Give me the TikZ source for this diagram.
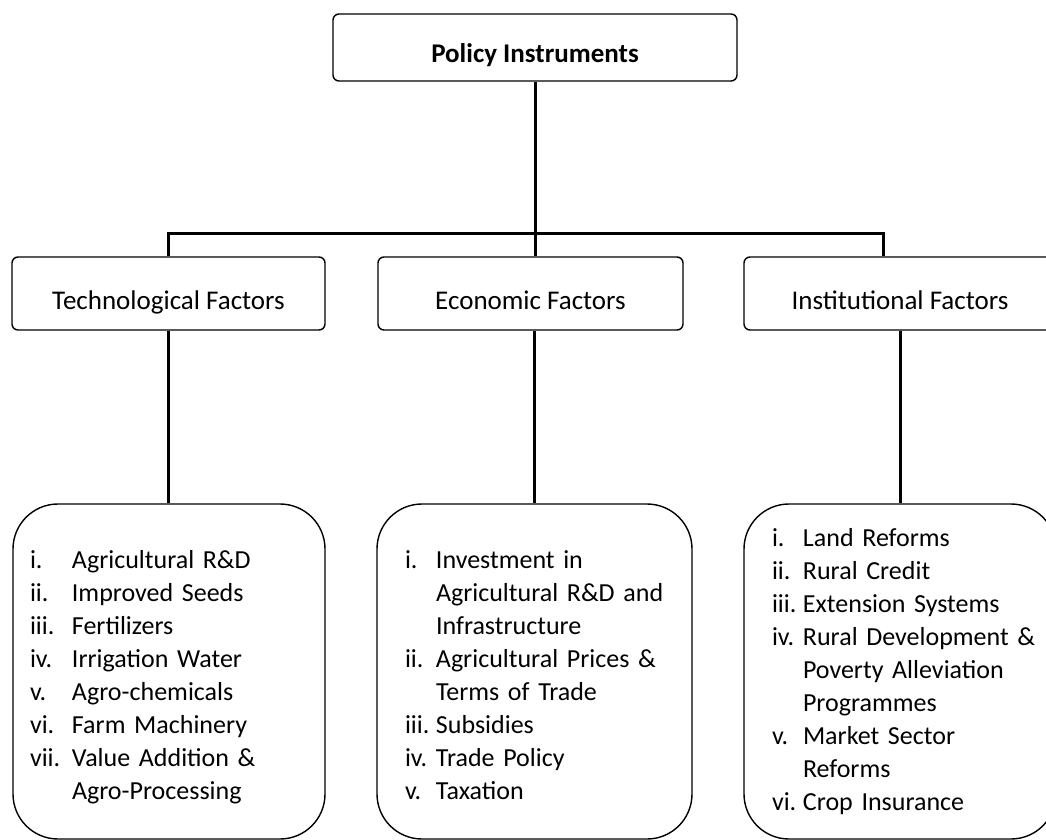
\documentclass[tikz,border=0pt]{standalone}
\usepackage{fontspec}
\setmainfont{Carlito}
\usepackage{array}
\begin{document}
\begin{tikzpicture}[x=1pt, y=-1pt,
  box/.style={draw, line width=1.4pt, rounded corners=6pt, minimum height=73pt, text height=31pt, text depth=0pt, font=\fontsize{27}{33}\selectfont},
  listbox/.style={draw, line width=1.4pt, rounded corners=45pt, minimum height=335pt, align=left, font=\fontsize{26}{33}\selectfont},
  link/.style={line width=3pt}
]
  \clip (0,0) rectangle (1046,840);

  % Top level
  \node[box, minimum width=404pt, minimum height=67pt, font=\fontsize{27}{33}\selectfont\bfseries] (pi) at (535,47.5) {Policy Instruments};

  % Factor groups
  \node[box, minimum width=313pt] (tech) at (168.5,293.5) {Technological Factors};
  \node[box, minimum width=305pt] (econ) at (530.5,293.5) {Economic Factors};
  \node[box, minimum width=312pt] (inst) at (900,293.5) {Institutional Factors};

  % Instrument lists
  \node[listbox, inner xsep=17pt, text width=278pt] (techlist) at (169,671.5) {%
    \begin{tabular}{@{}p{42pt}@{}l@{}}
      \noalign{\vskip 12pt}
      i.   & Agricultural R\&D \\
      ii.  & Improved Seeds \\
      iii. & Fertilizers \\
      iv.  & Irrigation Water \\
      v.   & Agro-chemicals \\
      vi.  & Farm Machinery \\
      vii. & Value Addition \& \\
           & Agro-Processing
    \end{tabular}};
  \node[listbox, inner xsep=28pt, text width=259pt] (econlist) at (534.5,671.5) {%
    \begin{tabular}{@{}p{31pt}@{}l@{}}
      \noalign{\vskip 12pt}
      i.   & Investment in \\
           & Agricultural R\&D and \\
           & Infrastructure \\
      ii.  & Agricultural Prices \& \\
           & Terms of Trade \\
      iii. & Subsidies \\
      iv.  & Trade Policy \\
      v.   & Taxation
    \end{tabular}};
  \node[listbox, inner xsep=28pt, text width=256pt] (instlist) at (900,671.5) {%
    \begin{tabular}{@{}p{31pt}@{}l@{}}
      i.   & Land Reforms \\
      ii.  & Rural Credit \\
      iii. & Extension Systems \\
      iv.  & Rural Development \& \\
           & Poverty Alleviation \\
           & Programmes \\
      v.   & Market Sector \\
           & Reforms \\
      vi.  & Crop Insurance
    \end{tabular}};

  % Connecting lines
  \coordinate (bus) at (535,233);
  \coordinate (instin) at ([xshift=-17pt]inst.north);
  \draw[link] (pi.south) -- (pi.south |- econ.north);
  \draw[link] (tech.north) -- (tech.north |- bus) -- (instin |- bus) -- (instin);
  \draw[link] (tech.south) -- (tech.south |- techlist.north);
  \draw[link] (econ.south -| econlist.north) -- (econlist.north);
  \draw[link] (inst.south) -- (inst.south |- instlist.north);
\end{tikzpicture}
\end{document}
